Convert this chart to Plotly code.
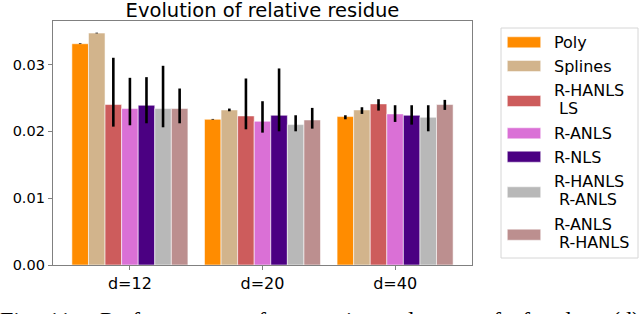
import plotly.graph_objects as go

# ---- data ----
categories = ["d=12", "d=20", "d=40"]
methods = ["Poly", "Splines", "R-HANLS LS", "R-ANLS", "R-NLS", "R-HANLS R-ANLS", "R-ANLS R-HANLS"]
legend_lines = [["Poly"], ["Splines"], ["R-HANLS", "\u00a0LS"], ["R-ANLS"], ["R-NLS"],
                ["R-HANLS", "\u00a0R-ANLS"], ["R-ANLS", "\u00a0R-HANLS"]]
colors = ["#FF8C00", "#D2B48C", "#CD5C5C", "#DA70D6", "#4B0082", "#B8B8B8", "#BC8F8F"]

poly = [0.0331, 0.0218, 0.0222]
splines = [0.0347, 0.0232, 0.0232]
rhanls_ls = [0.0240, 0.0223, 0.0241]
ranls = [0.0234, 0.0215, 0.0226]
rnls = [0.0239, 0.0224, 0.0224]
rhanls_ranls = [0.0234, 0.0210, 0.0221]
ranls_rhanls = [0.0234, 0.0217, 0.0240]

poly_hi = [0.00005, 0.00005, 0.0002]
poly_lo = [0.00005, 0.00005, 0.0004]
splines_hi = [0.00005, 0.0002, 0.0004]
splines_lo = [0.00005, 0.0002, 0.0006]
rhanls_ls_hi = [0.0070, 0.0056, 0.0007]
rhanls_ls_lo = [0.0033, 0.0020, 0.0010]
ranls_hi = [0.0046, 0.0030, 0.0013]
ranls_lo = [0.0025, 0.0017, 0.0012]
rnls_hi = [0.0042, 0.0070, 0.0015]
rnls_lo = [0.0027, 0.0024, 0.0014]
rhanls_ranls_hi = [0.0064, 0.0014, 0.0018]
rhanls_ranls_lo = [0.0028, 0.0010, 0.0021]
ranls_rhanls_hi = [0.0030, 0.0018, 0.0007]
ranls_rhanls_lo = [0.0022, 0.0013, 0.0008]

values = [poly, splines, rhanls_ls, ranls, rnls, rhanls_ranls, ranls_rhanls]
err_hi = [poly_hi, splines_hi, rhanls_ls_hi, ranls_hi, rnls_hi, rhanls_ranls_hi, ranls_rhanls_hi]
err_lo = [poly_lo, splines_lo, rhanls_ls_lo, ranls_lo, rnls_lo, rhanls_ranls_lo, ranls_rhanls_lo]

y_ticks = [0.00, 0.01, 0.02, 0.03]
title = "Evolution of relative residue"
caption_words = ["Fig.", "11:", "Performance", "for", "various", "degrees", "of", "freedom", "(d)"]
caption_word_px = [0, 48, 100, 258, 315, 402, 481, 522, 612]

# ---- layout geometry (pixels) ----
W, H = 640, 314
L, R, T, B = 53, 472, 21, 265
FONT = "DejaVu Sans"


def px(x):
    return (x - L) / (R - L)


def py(y):
    return (B - y) / (B - T)


fig = go.Figure()
for name, vals, hi, lo, col in zip(methods, values, err_hi, err_lo, colors):
    fig.add_trace(go.Bar(
        name=name, x=categories, y=vals,
        marker=dict(color=col, line=dict(color="rgba(255,255,255,0.7)", width=0.8)),
        error_y=dict(type="data", symmetric=False, array=hi, arrayminus=lo,
                     color="black", thickness=2.6, width=0),
        showlegend=False,
    ))

shapes = []
annotations = []

# legend box
shapes.append(dict(type="rect", xref="paper", yref="paper",
                   x0=px(501), x1=px(638), y0=py(258), y1=py(28),
                   line=dict(color="#d6d6d6", width=1), fillcolor="white", layer="above"))
patch_y = [42.3, 66, 101, 133.3, 156.7, 192.3, 234.7]
text_y = [[42], [66], [90, 108.5], [133], [157], [181, 199], [224, 242.5]]
for col, cy, lines, tys in zip(colors, patch_y, legend_lines, text_y):
    shapes.append(dict(type="rect", xref="paper", yref="paper",
                       x0=px(507.3), x1=px(540.7), y0=py(cy + 5.5), y1=py(cy - 5.5),
                       line=dict(color="rgba(255,255,255,0.6)", width=0.8),
                       fillcolor=col, layer="above"))
    for ln, ty in zip(lines, tys):
        annotations.append(dict(xref="paper", yref="paper", x=px(552), y=py(ty),
                                xanchor="left", yanchor="middle", text=ln, showarrow=False,
                                font=dict(family=FONT, size=16, color="black")))

# caption (cut by the page bottom)
for word, wx in zip(caption_words, caption_word_px):
    annotations.append(dict(xref="paper", yref="paper", x=px(wx - 2), y=py(304.5),
                            xanchor="left", yanchor="top", text=word, showarrow=False,
                            font=dict(family="Liberation Serif", size=24, color="black")))

fig.update_layout(
    width=W, height=H,
    margin=dict(l=L, r=W - R, t=T, b=H - B),
    paper_bgcolor="white", plot_bgcolor="white",
    barmode="group", bargap=0.125, bargroupgap=0,
    title=dict(text=title, x=(L + R) / 2 / W, xanchor="center",
               y=1 - 10.5 / H, yanchor="middle",
               font=dict(family=FONT, size=19.5, color="black")),
    font=dict(family=FONT, color="black"),
    shapes=shapes, annotations=annotations,
)
fig.update_xaxes(range=[-0.58, 2.58], showline=True, linecolor="#808080", linewidth=1.3,
                 mirror=True, ticks="outside", ticklen=4, tickcolor="#808080",
                 tickfont=dict(family=FONT, size=16, color="black"), showgrid=False)
fig.update_yaxes(range=[0, 0.0365], showline=True, linecolor="#808080", linewidth=1.3,
                 mirror=True, ticks="outside", ticklen=4, tickcolor="#808080",
                 tickvals=y_ticks, tickformat=".2f",
                 tickfont=dict(family=FONT, size=14.5, color="black"),
                 showgrid=False, zeroline=False)

fig.write_html("out.html", config={"displayModeBar": False},
               post_script="document.body.style.margin='0';document.body.style.overflow='hidden';")
